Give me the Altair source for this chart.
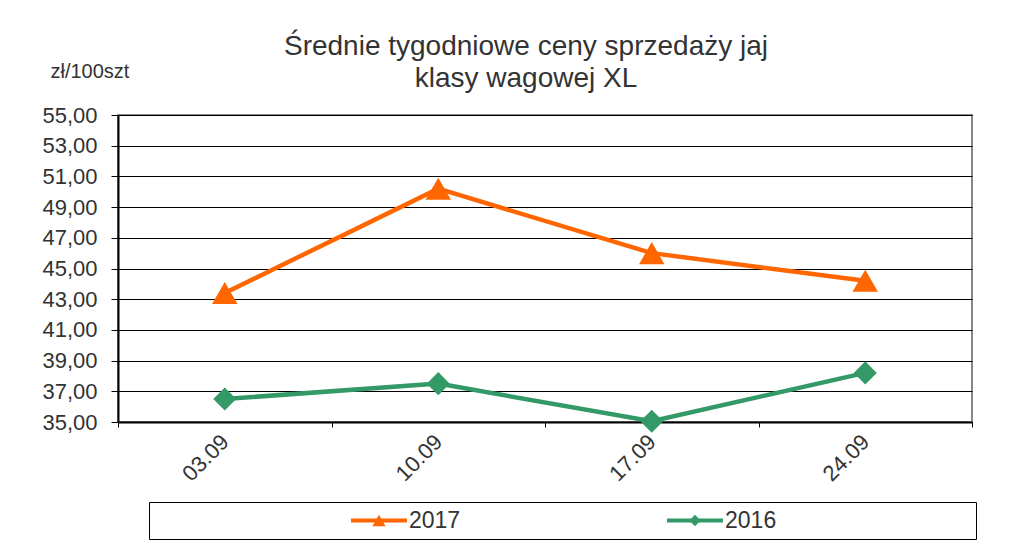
import altair as alt
import pandas as pd

weeks = ["03.09", "10.09", "17.09", "24.09"]
series_names = ["2017", "2016"]
prices_2017 = [43.4, 50.2, 46.0, 44.2]
prices_2016 = [36.5, 37.5, 35.05, 38.2]
y_ticks = [35, 37, 39, 41, 43, 45, 47, 49, 51, 53, 55]
colors = ["#FF6600", "#339966"]
shapes = ["triangle-up", "diamond"]
title_lines = ["Średnie tygodniowe ceny sprzedaży jaj", "klasy wagowej XL"]
unit_label = "zł/100szt"

df = pd.DataFrame({
    "week": weeks * 2,
    "series": [series_names[0]] * len(weeks) + [series_names[1]] * len(weeks),
    "price": prices_2017 + prices_2016,
})
legend_df = pd.DataFrame({"series": series_names})

color_scale = alt.Scale(domain=series_names, range=colors)
shape_scale = alt.Scale(domain=series_names, range=shapes)
TEXT = "#333333"

x_enc = alt.X(
    "week:N", sort=weeks, title=None,
    scale=alt.Scale(type="band", paddingInner=0, paddingOuter=0),
    axis=alt.Axis(labelAngle=-45, labelAlign="right", labelBaseline="middle",
                  labelFontSize=22, labelPadding=11, labelColor=TEXT,
                  tickBand="extent", tickSize=5, tickColor="#000", tickWidth=1,
                  domainColor="#000", domainWidth=2, grid=False),
)
y_enc = alt.Y(
    "price:Q", scale=alt.Scale(domain=[35, 55], zero=False, nice=False),
    axis=alt.Axis(values=y_ticks,
                  labelExpr="replace(format(datum.value, '.2f'), '.', ',')",
                  title=unit_label, titleAngle=0, titleAlign="left",
                  titleBaseline="alphabetic", titleX=-68, titleY=-38,
                  titleFontSize=20, titleFontWeight="normal", titleColor=TEXT,
                  labelFontSize=22, labelColor=TEXT, labelPadding=14,
                  tickSize=7, tickColor="#000", tickWidth=1,
                  domainColor="#000", domainWidth=2,
                  grid=True, gridColor="#000", gridWidth=1),
)

base = alt.Chart(df).encode(x=x_enc, y=y_enc)
lines = base.mark_line(strokeWidth=4.5).encode(
    color=alt.Color("series:N", scale=color_scale, legend=None),
    detail="series:N",
)
points = base.mark_point(filled=True, opacity=1).encode(
    color=alt.Color("series:N", scale=color_scale, legend=None),
    shape=alt.Shape("series:N", scale=shape_scale, legend=None),
    size=alt.Size("series:O", scale=alt.Scale(domain=series_names, range=[650, 530]), legend=None),
)
main = alt.layer(lines, points).properties(
    width=854, height=307,
    title=alt.TitleParams(title_lines, fontSize=28, fontWeight="normal", color=TEXT,
                          anchor="middle", frame="group", dx=-19, offset=-32,
                          lineHeight=32),
)

lbase = alt.Chart(legend_df).encode(
    x=alt.X("series:N", sort=series_names,
            scale=alt.Scale(type="point", padding=0.8085), axis=None)
)
ltick = lbase.mark_tick(orient="horizontal", size=56, thickness=4, opacity=1,
                        xOffset=-25.5).encode(
    color=alt.Color("series:N", scale=color_scale, legend=None)
)
lpt = lbase.mark_point(filled=True, opacity=1, xOffset=-25.5).encode(
    color=alt.Color("series:N", scale=color_scale, legend=None),
    shape=alt.Shape("series:N", scale=shape_scale, legend=None),
    size=alt.Size("series:O", scale=alt.Scale(domain=series_names, range=[175, 130]), legend=None),
)
ltext = lbase.mark_text(align="left", baseline="middle", fontSize=23, color=TEXT,
                        xOffset=4.5).encode(text="series:N")
legend_chart = alt.layer(ltick, lpt, ltext).properties(
    width=827, height=37, view=alt.ViewConfig(stroke="#000", strokeWidth=1)
)
spacer = alt.Chart(legend_df).mark_rule(opacity=0).encode(x=alt.value(0)).properties(
    width=29, height=37, view=alt.ViewConfig(stroke="transparent")
)

chart = alt.vconcat(
    main, alt.hconcat(spacer, legend_chart, spacing=0),
    spacing=80, bounds="flush",
).resolve_scale(
    size="independent",
).properties(
    padding={"left": 32, "top": 24, "right": 5, "bottom": 0},
).configure(
    font="Liberation Sans",
).configure_view(
    stroke="#888888", strokeWidth=2,
)

chart.save("out.html", embed_options={"renderer": "svg", "actions": False})
